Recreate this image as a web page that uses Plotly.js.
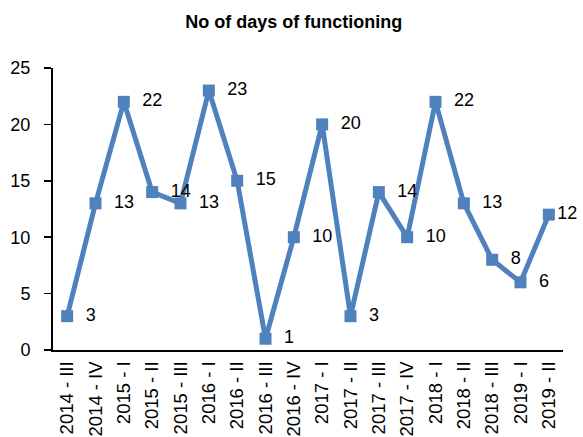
<!DOCTYPE html>
<html><head><meta charset="utf-8">
<script src="https://cdn.plot.ly/plotly-3.0.1.min.js"></script>
<style>html,body{margin:0;padding:0;background:#fff;}#chart{width:583px;height:437px;}</style>
</head><body><div id="chart"></div>
<script>
const categories = ["2014 - III","2014 - IV","2015 - I","2015 - II","2015 - III","2016 - I","2016 - II","2016 - III","2016 - IV","2017 - I","2017 - II","2017 - III","2017 - IV","2018 - I","2018 - II","2018 - III","2019 - I","2019 - II"];
const days = [3,13,22,14,13,23,15,1,10,20,3,14,10,22,13,8,6,12];
const yTicks = [0,5,10,15,20,25];

const trace = {
  x: categories, y: days, type: "scatter", mode: "lines+markers+text",
  text: days.map((v, i) => (i === days.length - 1 ? "" : "\u00a0\u00a0") + v),
  textposition: "middle right",
  textfont: {family: "Liberation Sans, Arial, sans-serif", size: 18, color: "#000"},
  line: {color: "#4F81BD", width: 5},
  marker: {symbol: "square", size: 12, color: "#4F81BD"},
  cliponaxis: false, hoverinfo: "none"
};
const layout = {
  width: 583, height: 437,
  margin: {l: 53, r: 20, t: 68, b: 87},
  paper_bgcolor: "#fff", plot_bgcolor: "#fff",
  font: {family: "Liberation Sans, Arial, sans-serif", color: "#000"},
  title: {text: "<b>No of days of functioning</b>", font: {size: 18, color: "#000"}, x: 0.504, xanchor: "center", y: 0.95, yanchor: "middle"},
  showlegend: false,
  xaxis: {type: "category", range: [-0.5, categories.length - 0.5], showline: true, linecolor: "#000", linewidth: 2,
    showgrid: false, ticks: "", tickangle: -90, tickfont: {size: 18.5}, zeroline: false, ticklabelstandoff: 2},
  yaxis: {range: [0, 25], tickvals: yTicks, ticktext: yTicks.map(String), showline: true, linecolor: "#000", linewidth: 2,
    showgrid: false, ticks: "outside", ticklen: 7, tickwidth: 1.5, tickcolor: "#000", tickfont: {size: 18}, zeroline: false, ticklabelstandoff: 10}
};
Plotly.newPlot("chart", [trace], layout, {displayModeBar: false, staticPlot: true});
</script></body></html>
